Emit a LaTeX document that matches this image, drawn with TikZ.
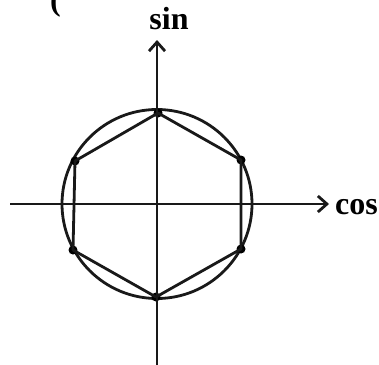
\documentclass[tikz,border=0pt]{standalone}
\usepackage{fontspec}
\setmainfont{Liberation Serif}
\usetikzlibrary{arrows.meta}
\begin{document}
\begin{tikzpicture}[x=1pt,y=-1pt,
  ln/.style={line width=2.8pt,black!90},
  axis/.style={line width=2.8pt,black!90,-{Straight Barb[length=9pt,width=16pt,line width=2.8pt]}},
  vdot/.style={circle,fill=black,inner sep=0pt,minimum size=9pt},
  lbl/.style={font=\bfseries\fontsize{32}{32}\selectfont,inner sep=0pt}]
\useasboundingbox (0,0) rectangle (379,364);
\coordinate (O) at (157,204);
\coordinate (xl) at (10,204);
\coordinate (xr) at (329,204);
\coordinate (yb) at (157,366);
\coordinate (yt) at (157,40);
\draw[ln] (O) ellipse [x radius=95, y radius=94.5];
\node[vdot] (t) at (158,113) {};
\node[vdot] (ur) at (241,160) {};
\node[vdot] (lr) at (241,249) {};
\node[vdot] (b) at (156,297) {};
\node[vdot] (ll) at (73,250) {};
\node[vdot] (ul) at (75,161) {};
\draw[ln,line join=round] (t.center) -- (ur.center) -- (lr.center) -- (b.center) -- (ll.center) -- (ul.center) -- cycle;
\draw[axis] (xl) -- (xr);
\draw[axis] (yb) -- (yt);
\node[lbl,anchor=base] (sin) at (169,29) {sin};
\node[lbl,anchor=base west] (cos) at (335,214) {cos};
\node[font=\bfseries\fontsize{32}{32}\selectfont,inner sep=0pt,anchor=base west] (par) at (50,10) {(};
\end{tikzpicture}
\end{document}
